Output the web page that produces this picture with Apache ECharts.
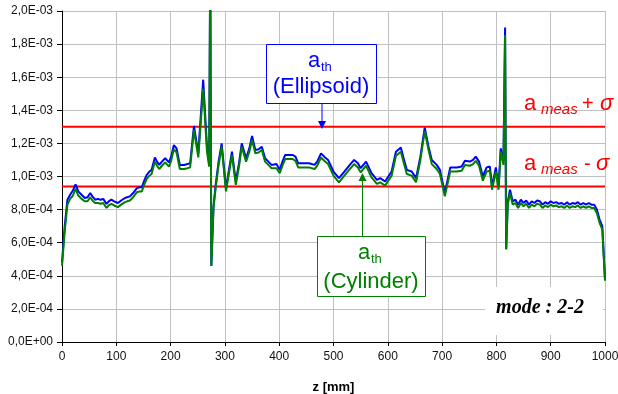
<!DOCTYPE html>
<html><head><meta charset="utf-8">
<script src="https://cdn.jsdelivr.net/npm/echarts@6/dist/echarts.min.js"></script>
<style>html,body{margin:0;padding:0;background:#fff}#c{width:618px;height:394px}</style>
</head><body><div id="c"></div>
<script>
// z positions [mm]
const zPos = [0,5,10,15,20,25,30,36,42,47,52,56,61,66,71,76,82,86,91,96,103,109,116,120,125,131,138,143,147,152,156,161,165,171,175,179,184,190,197,201,206,211,217,225,231,236,243,251,260,267,271,273,275,279,283,288,294,302,308,313,320,326,331,339,345,350,356,362,368,374,380,386,395,401,406,411,418,425,430,435,445,455,465,470,477,483,490,500,510,520,530,538,545,550,560,570,580,586,595,607,615,624,630,635,644,652,660,668,675,681,690,696,705,715,727,736,742,751,757,762,768,775,782,788,792,799,804,808,813,816,818,821,825,830,835,840,845,850,855,860,865,870,875,880,885,890,895,900,905,910,915,920,925,930,935,940,945,950,955,960,965,970,975,980,985,990,995,1000];
// a_th (Ellipsoid), units of 1E-03
const ellipsoidVals = [0.48,0.70,0.86,0.89,0.915,0.953,0.91,0.89,0.87,0.875,0.90,0.88,0.86,0.865,0.86,0.865,0.834,0.85,0.86,0.85,0.84,0.855,0.87,0.875,0.88,0.90,0.93,0.935,0.935,0.98,1.01,1.03,1.04,1.115,1.09,1.07,1.09,1.11,1.085,1.12,1.19,1.17,1.07,1.07,1.075,1.08,1.305,1.14,1.585,1.18,1.08,2.3,0.46,0.82,0.95,1.08,1.20,0.93,1.05,1.15,0.97,1.08,1.20,1.11,1.17,1.245,1.16,1.165,1.18,1.11,1.09,1.07,1.075,1.04,1.09,1.13,1.13,1.13,1.12,1.08,1.08,1.08,1.07,1.09,1.14,1.12,1.10,1.03,0.99,1.03,1.07,1.10,1.08,1.05,1.09,1.02,0.98,0.99,0.97,1.03,1.15,1.175,1.10,1.04,1.03,0.99,1.12,1.295,1.18,1.10,1.07,1.04,0.90,1.055,1.055,1.06,1.095,1.09,1.10,1.12,1.09,1.00,1.055,1.06,0.94,1.055,0.94,1.17,1.09,1.90,0.56,0.85,0.92,0.85,0.86,0.83,0.86,0.84,0.855,0.83,0.85,0.84,0.855,0.85,0.83,0.845,0.835,0.85,0.84,0.845,0.835,0.84,0.83,0.845,0.83,0.84,0.835,0.845,0.83,0.84,0.83,0.84,0.83,0.83,0.80,0.74,0.70,0.38];
// a_th (Cylinder), units of 1E-03
const cylinderVals = [0.46,0.67,0.83,0.865,0.885,0.925,0.885,0.865,0.85,0.85,0.875,0.855,0.84,0.84,0.835,0.84,0.81,0.825,0.835,0.825,0.815,0.83,0.845,0.85,0.855,0.875,0.905,0.91,0.91,0.955,0.985,1.005,1.015,1.09,1.065,1.045,1.065,1.085,1.06,1.095,1.165,1.145,1.045,1.045,1.05,1.055,1.28,1.115,1.53,1.15,1.06,2.3,0.46,0.81,0.93,1.06,1.18,0.91,1.03,1.13,0.95,1.06,1.18,1.09,1.15,1.22,1.14,1.145,1.16,1.09,1.07,1.05,1.05,1.02,1.065,1.105,1.105,1.105,1.095,1.055,1.055,1.055,1.045,1.065,1.115,1.095,1.075,1.005,0.965,1.005,1.045,1.075,1.055,1.025,1.065,0.995,0.955,0.965,0.945,1.005,1.125,1.15,1.075,1.015,1.005,0.965,1.10,1.275,1.16,1.075,1.045,1.015,0.88,1.03,1.03,1.035,1.07,1.065,1.075,1.095,1.065,0.975,1.03,1.035,0.92,1.03,0.92,1.15,1.07,1.855,0.56,0.83,0.90,0.83,0.84,0.81,0.84,0.82,0.835,0.81,0.83,0.82,0.835,0.83,0.81,0.825,0.815,0.83,0.82,0.825,0.815,0.82,0.81,0.825,0.81,0.82,0.815,0.825,0.81,0.82,0.81,0.82,0.81,0.81,0.78,0.72,0.68,0.37];
// a_meas + sigma, a_meas - sigma (1E-03)
const sigmaLevels = [1.30, 0.94];
const valueScale = 1e-3;
const xAxisRange = {min: 0, max: 1000, interval: 100};
const yAxisRange = {min: 0, max: 2.0, interval: 0.2};

function sci(v) {
  if (Math.abs(v) < 1e-12) return '0,0E+00';
  const s = v.toExponential(1);
  const parts = s.split('e');
  const e = parseInt(parts[1], 10);
  const n = Math.abs(e);
  return parts[0].replace('.', ',') + 'E' + (e < 0 ? '-' : '+') + (n < 10 ? '0' : '') + n;
}
const pairs = vals => zPos.map((z, i) => [z, vals[i] * valueScale]);

const FONT = 'Liberation Sans, Arial, sans-serif';
const RED = '#ff0000', BLUE = '#0000ff', GREEN = '#008000';

const sigmaSeries = sigmaLevels.map((v, i) => ({
  type: 'line', name: 'sigma' + i, z: 1, symbol: 'none', showSymbol: false, silent: true,
  data: [[xAxisRange.min, v * valueScale], [xAxisRange.max, v * valueScale]],
  lineStyle: {color: RED, width: 2}
}));

const chart = echarts.init(document.getElementById('c'), null, {renderer: 'canvas'});
chart.setOption({
  animation: false,
  backgroundColor: '#ffffff',
  grid: {left: 62, right: 13, top: 11, bottom: 52, containLabel: false, outerBoundsMode: 'none'},
  xAxis: {
    type: 'value', min: xAxisRange.min, max: xAxisRange.max, interval: xAxisRange.interval,
    name: 'z [mm]', nameLocation: 'middle', nameGap: 39,
    nameTextStyle: {fontFamily: FONT, fontSize: 13, fontWeight: 'bold', color: '#000'},
    axisLine: {show: true, onZero: false, lineStyle: {color: '#000', width: 1}},
    axisTick: {show: true, length: 4, lineStyle: {color: '#000'}},
    axisLabel: {fontFamily: FONT, fontSize: 12, color: '#111', margin: 9, formatter: v => String(v)},
    splitLine: {show: true, lineStyle: {color: '#c0c0c0', width: 1}}
  },
  yAxis: {
    type: 'value', min: yAxisRange.min * valueScale, max: yAxisRange.max * valueScale,
    interval: yAxisRange.interval * valueScale,
    axisLine: {show: true, lineStyle: {color: '#000', width: 1}},
    axisTick: {show: true, length: 5, lineStyle: {color: '#000'}},
    axisLabel: {fontFamily: FONT, fontSize: 12, color: '#111', margin: 9, formatter: sci},
    splitLine: {show: true, lineStyle: {color: '#c0c0c0', width: 1}}
  },
  series: sigmaSeries.concat([
    {
      type: 'line', name: 'a_th (Ellipsoid)', data: pairs(ellipsoidVals), z: 2,
      showSymbol: false, symbol: 'none', clip: true,
      lineStyle: {color: BLUE, width: 2}
    },
    {
      type: 'line', name: 'a_th (Cylinder)', data: pairs(cylinderVals), z: 3,
      showSymbol: false, symbol: 'none', clip: true,
      lineStyle: {color: GREEN, width: 2}
    }
  ]),
  graphic: [
    // Ellipsoid box
    {type: 'line', z: 100, shape: {x1: 322, y1: 103, x2: 322, y2: 124}, style: {stroke: BLUE, lineWidth: 1}},
    {type: 'polygon', z: 100, shape: {points: [[318, 121], [326, 121], [322, 129]]}, style: {fill: BLUE}},
    {type: 'rect', z: 100, shape: {x: 266.5, y: 44.5, width: 110, height: 59}, style: {fill: '#fff', stroke: BLUE, lineWidth: 1}},
    {type: 'text', z: 101, x: 314, y: 61, style: {text: 'a', font: '22px ' + FONT, fill: BLUE, align: 'center', verticalAlign: 'middle'}},
    {type: 'text', z: 101, x: 321, y: 67, style: {text: 'th', font: '13px ' + FONT, fill: BLUE, align: 'left', verticalAlign: 'middle'}},
    {type: 'text', z: 101, x: 321, y: 87, style: {text: '(Ellipsoid)', font: '22px ' + FONT, fill: BLUE, align: 'center', verticalAlign: 'middle'}},
    // Cylinder box
    {type: 'line', z: 100, shape: {x1: 362.5, y1: 236, x2: 362.5, y2: 178}, style: {stroke: GREEN, lineWidth: 1}},
    {type: 'polygon', z: 100, shape: {points: [[358.5, 181], [366.5, 181], [362.5, 173]]}, style: {fill: GREEN}},
    {type: 'rect', z: 100, shape: {x: 317.5, y: 236.5, width: 108, height: 60}, style: {fill: '#fff', stroke: GREEN, lineWidth: 1}},
    {type: 'text', z: 101, x: 364, y: 253, style: {text: 'a', font: '22px ' + FONT, fill: GREEN, align: 'center', verticalAlign: 'middle'}},
    {type: 'text', z: 101, x: 371, y: 259, style: {text: 'th', font: '13px ' + FONT, fill: GREEN, align: 'left', verticalAlign: 'middle'}},
    {type: 'text', z: 101, x: 371, y: 282, style: {text: '(Cylinder)', font: '22px ' + FONT, fill: GREEN, align: 'center', verticalAlign: 'middle'}},
    // sigma labels
    {type: 'text', z: 101, x: 524, y: 104, style: {text: 'a', font: '22px ' + FONT, fill: RED, verticalAlign: 'middle'}},
    {type: 'text', z: 101, x: 541, y: 110, style: {text: 'meas', font: 'italic 15px ' + FONT, fill: RED, verticalAlign: 'middle'}},
    {type: 'text', z: 101, x: 582, y: 104, style: {text: '+', font: '20px ' + FONT, fill: RED, verticalAlign: 'middle'}},
    {type: 'text', z: 101, x: 600, y: 104, style: {text: 'σ', font: 'italic 22px ' + FONT, fill: RED, verticalAlign: 'middle'}},
    {type: 'text', z: 101, x: 524, y: 164, style: {text: 'a', font: '22px ' + FONT, fill: RED, verticalAlign: 'middle'}},
    {type: 'text', z: 101, x: 541, y: 170, style: {text: 'meas', font: 'italic 15px ' + FONT, fill: RED, verticalAlign: 'middle'}},
    {type: 'text', z: 101, x: 584, y: 164, style: {text: '-', font: '20px ' + FONT, fill: RED, verticalAlign: 'middle'}},
    {type: 'text', z: 101, x: 596, y: 164, style: {text: 'σ', font: 'italic 22px ' + FONT, fill: RED, verticalAlign: 'middle'}},
    // mode box
    {type: 'rect', z: 100, shape: {x: 485, y: 287, width: 118, height: 48}, style: {fill: '#fff'}},
    {type: 'text', z: 101, x: 540, y: 308, style: {text: 'mode : 2-2', font: 'italic bold 20px Liberation Serif, Times New Roman, serif', fill: '#000', align: 'center', verticalAlign: 'middle'}}
  ]
});
</script>
</body></html>
